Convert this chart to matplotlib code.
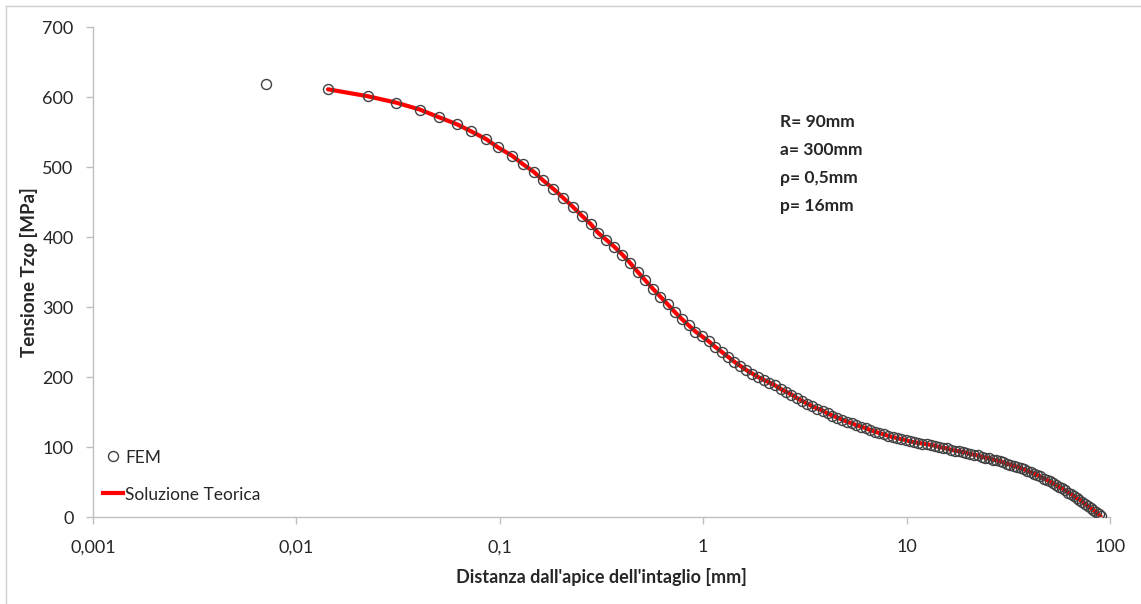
import matplotlib
matplotlib.use("Agg")
import matplotlib.pyplot as plt
from matplotlib.lines import Line2D
from matplotlib.ticker import FixedLocator, FixedFormatter, NullLocator

# FEM results: distance from the notch tip [mm] and shear stress [MPa]
x_fem = [0.0071, 0.0143, 0.0225, 0.0309, 0.0405, 0.0503, 0.0616, 0.0722, 0.0855, 0.098,
         0.115, 0.130, 0.147, 0.163, 0.183, 0.205, 0.229, 0.254, 0.281, 0.304,
         0.334, 0.366, 0.400, 0.437, 0.477, 0.520, 0.566, 0.615, 0.668, 0.724,
         0.784, 0.848, 0.916, 0.988, 1.065, 1.146, 1.232, 1.323, 1.419, 1.521,
         1.628, 1.741, 1.860, 1.985, 2.117, 2.256, 2.402, 2.555, 2.716, 2.885,
         3.062, 3.248, 3.443, 3.647, 3.861, 4.085, 4.320, 4.566, 4.823, 5.092,
         5.373, 5.667, 5.974, 6.295, 6.630, 6.980, 7.345, 7.726, 8.123, 8.537,
         8.969, 9.419, 9.888, 10.38, 10.89, 11.42, 11.97, 12.55, 13.15, 13.77,
         14.42, 15.09, 15.79, 16.52, 17.27, 18.05, 18.86, 19.70, 20.57, 21.47,
         22.40, 23.37, 24.37, 25.40, 26.47, 27.57, 28.71, 29.88, 31.09, 32.34,
         33.63, 34.96, 36.33, 37.74, 39.19, 40.69, 42.23, 43.81, 45.44, 47.11,
         48.83, 50.59, 52.40, 54.25, 56.15, 58.10, 60.10, 62.14, 64.23, 66.37,
         68.56, 70.80, 73.09, 75.43, 77.82, 80.26, 82.75, 85.29, 87.88, 90.0]
y_fem = [619, 611, 601, 592, 582, 571, 561, 551, 540, 528,
         516, 504, 493, 481, 469, 456, 443, 430, 418, 406,
         396, 386, 375, 363, 350, 338, 326, 315, 304, 293,
         283, 274, 265, 258, 251, 243, 236, 229, 222, 216,
         210, 205, 200, 196, 192, 188, 183, 179, 175, 170,
         166, 162, 158, 155, 152, 148, 145, 142, 139, 136,
         134, 131, 129, 127, 124, 122, 120, 118, 116, 114,
         113, 111, 110, 108, 107, 106, 105, 104, 103, 102,
         100, 99, 98, 96, 95, 94, 93, 92, 90, 89,
         88, 86, 85, 84, 82, 81, 80, 78, 76, 75,
         73, 72, 70, 68, 66, 64, 62, 60, 58, 55,
         53, 51, 48, 46, 43, 41, 38, 35, 33, 30,
         27, 25, 22, 19, 16, 13, 10, 7, 4, 1]

# Theoretical solution, evaluated from the first mesh node onward
x_teo = x_fem[1:]
y_teo = y_fem[1:]

x_ticks = [0.001, 0.01, 0.1, 1, 10, 100]
x_tick_labels = ["0,001", "0,01", "0,1", "1", "10", "100"]
y_ticks = [0, 100, 200, 300, 400, 500, 600, 700]

params_text = ["R= 90mm", "a= 300mm", "\u03c1= 0,5mm", "p= 16mm"]

FONT = ["Lato", "DejaVu Sans"]
plt.rcParams["font.family"] = FONT
AXIS_GREY = "#bfbfbf"
TEXT = "#262626"
MARKER_EDGE = "#404040"

W, H = 1141, 604
fig = plt.figure(figsize=(W / 100, H / 100), dpi=100)
fig.patch.set_facecolor("white")

# outer chart-area border (top and left edges)
fig.add_artist(Line2D([6 / W, 1.0], [1 - 6 / H, 1 - 6 / H], color="#d0d0d0", lw=1.0))
fig.add_artist(Line2D([6 / W, 6 / W], [0.0, 1 - 6 / H], color="#d0d0d0", lw=1.0))

left, right = 93 / W, 1110 / W
bottom, top = 1 - 517 / H, 1 - 27 / H
ax = fig.add_axes([left, bottom, right - left, top - bottom])

ax.set_xscale("log")
ax.set_xlim(0.001, 100)
ax.set_ylim(0, 700)

ax.plot(x_teo, y_teo, color="#ff0000", lw=3.0, solid_capstyle="round", zorder=2,
        label="Soluzione Teorica")
ax.plot(x_fem, y_fem, linestyle="none", marker="o", markersize=7.2,
        markerfacecolor="none", markeredgecolor=MARKER_EDGE, markeredgewidth=1.0,
        zorder=3, label="FEM")

for s in ["top", "right"]:
    ax.spines[s].set_visible(False)
for s in ["left", "bottom"]:
    ax.spines[s].set_color(AXIS_GREY)
    ax.spines[s].set_linewidth(1.0)

ax.xaxis.set_major_locator(FixedLocator(x_ticks))
ax.xaxis.set_major_formatter(FixedFormatter(x_tick_labels))
ax.xaxis.set_minor_locator(NullLocator())
ax.set_yticks(y_ticks)

ax.tick_params(axis="both", which="major", direction="out", length=5, width=1.0,
               color=AXIS_GREY, labelcolor=TEXT, labelsize=13)
ax.tick_params(axis="y", pad=9)
ax.tick_params(axis="x", pad=11)

ax.set_xlabel("Distanza dall'apice dell'intaglio [mm]", fontsize=13, fontweight="bold",
              color=TEXT, labelpad=9)
ax.set_ylabel("Tensione Tz\u03c6 [MPa]", fontsize=13.5, fontweight="bold", color=TEXT,
              labelpad=3)

for i, t in enumerate(params_text):
    fig.text(780 / W, 1 - (122 + i * 28) / H, t, fontsize=12.5, fontweight="bold",
             color=TEXT, ha="left", va="center")

# legend, drawn inside the plot area at the lower left
fig.add_artist(Line2D([113 / W], [1 - 456 / H], marker="o", markersize=7.2,
                      markerfacecolor="none", markeredgecolor=MARKER_EDGE,
                      markeredgewidth=1.0, linestyle="none"))
fig.text(125 / W, 1 - 458 / H, "FEM", fontsize=12.5, color=TEXT, ha="left", va="center")
fig.add_artist(Line2D([103 / W, 123 / W], [1 - 493 / H, 1 - 493 / H], color="#ff0000",
                      lw=3.0))
fig.text(125 / W, 1 - 495 / H, "Soluzione Teorica", fontsize=12.5, color=TEXT,
         ha="left", va="center")

fig.savefig("out.png", dpi=100, facecolor="white")
